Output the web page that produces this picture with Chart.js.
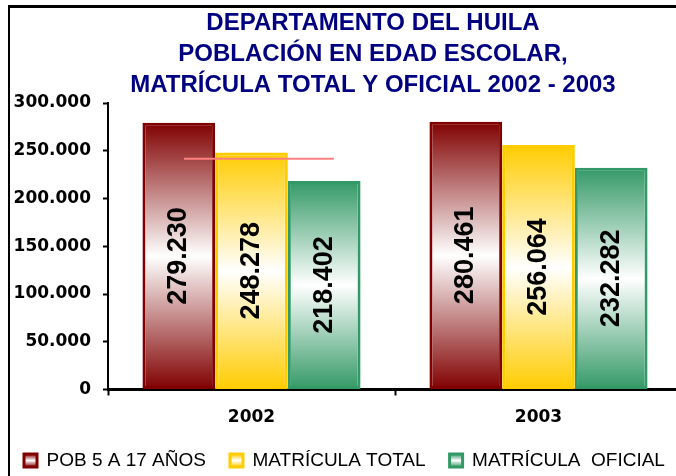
<!DOCTYPE html>
<html>
<head>
<meta charset="utf-8">
<script src="https://cdn.jsdelivr.net/npm/chart.js@4/dist/chart.umd.min.js"></script>
<style>
  html, body { margin: 0; padding: 0; background: #fff; overflow: hidden; }
  #wrap { position: relative; width: 746px; height: 476px; }
  #frame { position: absolute; left: 8px; top: 5px; width: 900px; height: 600px;
           border-left: 2px solid #000; border-top: 3px solid #000; pointer-events: none; }
</style>
</head>
<body>
<div id="wrap">
  <canvas id="chart"></canvas>
  <div id="frame"></div>
</div>
<script>
// data
const years = ['2002', '2003'];
const seriesNames = ['POB 5 A 17 AÑOS', 'MATRÍCULA TOTAL', 'MATRÍCULA  OFICIAL'];
const poblacion = [279230, 280461];
const matriculaTotal = [248278, 256064];
const matriculaOficial = [218402, 232282];
const seriesColors = ['#800000', '#FFCC00', '#339966'];
const yTicks = [0, 50000, 100000, 150000, 200000, 250000, 300000];
// stray pink line over the 2002 group (x in category units, 0 = left edge of 2002)
const refLineX = [0.265, 0.787];
const refLineY = [241500, 241500];

const titleLines = ['DEPARTAMENTO DEL HUILA', 'POBLACIÓN EN EDAD ESCOLAR,', 'MATRÍCULA TOTAL Y OFICIAL 2002 - 2003'];

const sans = '"Liberation Sans", Arial, sans-serif';

function fmt(v) {
  return String(v).replace(/\B(?=(\d{3})+(?!\d))/g, '.');
}

// color -> white -> color, vertical, per bar
function barFill(color) {
  return (c) => {
    const ys = c.chart.scales.y;
    if (!ys || c.type !== 'data') return color;
    const top = ys.getPixelForValue(c.raw);
    const base = ys.getPixelForValue(0);
    if (!isFinite(top) || !isFinite(base) || top === base) return color;
    const g = c.chart.ctx.createLinearGradient(0, top, 0, base);
    g.addColorStop(0, color);
    g.addColorStop(0.5, '#ffffff');
    g.addColorStop(1, color);
    return g;
  };
}

// pink line + values written vertically inside the bars
const barLabels = {
  id: 'barLabels',
  afterDatasetsDraw(chart) {
    const ctx = chart.ctx;
    const xs = chart.scales.x, ys = chart.scales.y;
    const catW = xs.getPixelForValue(1) - xs.getPixelForValue(0);
    const px = (u) => xs.getPixelForValue(0) + (u - 0.5) * catW;
    ctx.save();
    ctx.strokeStyle = '#FF8080';
    ctx.lineWidth = 2;
    ctx.beginPath();
    refLineX.forEach((u, i) => {
      const y = ys.getPixelForValue(refLineY[i]);
      if (i === 0) ctx.moveTo(px(u), y); else ctx.lineTo(px(u), y);
    });
    ctx.stroke();
    ctx.restore();

    chart.data.datasets.forEach((ds, i) => {
      chart.getDatasetMeta(i).data.forEach((bar, j) => {
        ctx.save();
        ctx.translate(bar.x, (bar.y + bar.base) / 2);
        ctx.rotate(-Math.PI / 2);
        ctx.font = 'bold 27px ' + sans;
        ctx.fillStyle = '#000';
        ctx.textAlign = 'center';
        ctx.textBaseline = 'middle';
        ctx.fillText(fmt(ds.data[j]), 0, 0);
        ctx.restore();
      });
    });
  }
};

// empty box on the right: the plot runs past the cropped edge of the picture
const rightSpacer = {
  id: 'rightSpacer',
  beforeInit(chart) {
    Chart.layouts.addBox(chart, {
      position: 'right',
      weight: 0,
      fullSize: false,
      options: {},
      left: 0, top: 0, right: 0, bottom: 0, width: 0, height: 0,
      isHorizontal() { return false; },
      update(maxWidth, maxHeight) { this.width = 64; this.height = maxHeight; },
      draw() {}
    });
  }
};

const values = [poblacion, matriculaTotal, matriculaOficial];
const barSets = seriesNames.map((name, i) => ({
  label: name,
  data: values[i],
  backgroundColor: barFill(seriesColors[i]),
  borderColor: seriesColors[i],
  borderWidth: 3,
  borderSkipped: false
}));

const chart = new Chart(document.getElementById('chart'), {
  type: 'bar',
  data: {
    labels: years,
    datasets: barSets
  },
  options: {
    responsive: true,
    maintainAspectRatio: false,
    animation: false,
    layout: { padding: { left: 0, right: 0, top: 0, bottom: -4 } },
    datasets: { bar: { categoryPercentage: 0.76, barPercentage: 1.0 } },
    plugins: {
      tooltip: { enabled: false },
      title: {
        display: true,
        text: titleLines,
        color: '#000080',
        font: { family: sans, size: 24, weight: 'bold', lineHeight: 31 / 24 },
        padding: { top: 8, bottom: 2 }
      },
      legend: {
        position: 'bottom',
        align: 'start',
        labels: {
          color: '#000',
          font: { family: sans, size: 19 },
          boxWidth: 13,
          boxHeight: 13,
          padding: 24,
          generateLabels(chart) {
            const lg = chart.legend;
            let top = null;
            if (lg && isFinite(lg.top)) top = lg.top + 24 + (19 - 13) / 2;
            return barSets.map((ds, i) => {
              let fill = seriesColors[i];
              if (top !== null) {
                const g = chart.ctx.createLinearGradient(0, top, 0, top + 13);
                g.addColorStop(0, seriesColors[i]);
                g.addColorStop(0.5, '#ffffff');
                g.addColorStop(1, seriesColors[i]);
                fill = g;
              }
              return {
                text: ds.label,
                fillStyle: fill,
                strokeStyle: seriesColors[i],
                lineWidth: 3,
                fontColor: '#000',
                datasetIndex: i,
                hidden: false
              };
            });
          }
        }
      }
    },
    scales: {
      x: {
        afterFit: (s) => { s.height = 37.5; },
        grid: { drawOnChartArea: false, offset: true, tickLength: 6, color: '#000', tickWidth: 2 },
        border: { display: true, color: '#000', width: 3 },
        ticks: { color: '#000', padding: 12, font: { family: '"DejaVu Sans", sans-serif', size: 17, weight: 'bold' } }
      },
      y: {
        min: 0,
        max: 300000,
        afterBuildTicks: (s) => { s.ticks = yTicks.map((v) => ({ value: v })); },
        afterFit: (s) => { s.width = 108; },
        grid: { drawOnChartArea: false, tickLength: 5, color: '#000', tickWidth: 2 },
        border: { display: true, color: '#000', width: 2 },
        ticks: {
          color: '#000',
          padding: 12,
          font: { family: '"DejaVu Sans", sans-serif', size: 17, weight: 'bold' },
          callback: (v) => fmt(v)
        }
      }
    }
  },
  plugins: [barLabels, rightSpacer]
});
</script>
</body>
</html>
